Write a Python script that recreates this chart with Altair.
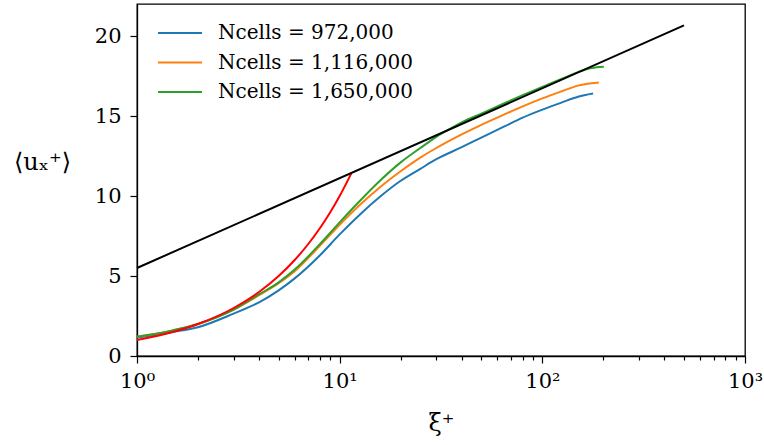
import altair as alt
import pandas as pd

# ---- data ----
series_names = ["Ncells = 972,000", "Ncells = 1,116,000", "Ncells = 1,650,000"]
series_colors = ["#1f77b4", "#ff7f0e", "#2ca02c"]

xi_972 = [1, 1.5, 2, 3, 4, 5, 6, 8, 10, 12.6, 15.8, 20, 25, 30, 40, 50, 65, 80, 100, 125, 150, 178]
u_972 = [1.15, 1.5, 1.8, 2.65, 3.35, 4.1, 4.85, 6.3, 7.6, 8.85, 9.95, 10.95, 11.7, 12.3, 13.05, 13.65,
         14.35, 14.9, 15.4, 15.85, 16.2, 16.4]

xi_1116 = [1, 1.5, 2, 3, 4, 5, 6, 8, 10, 12.6, 15.8, 20, 25, 30, 40, 50, 65, 80, 100, 125, 150, 175, 190]
u_1116 = [1.2, 1.6, 2.0, 2.9, 3.8, 4.55, 5.3, 6.9, 8.2, 9.45, 10.55, 11.55, 12.4, 13.0, 13.85, 14.45,
          15.1, 15.6, 16.1, 16.55, 16.9, 17.05, 17.1]

xi_1650 = [1, 1.5, 2, 3, 4, 5, 6, 8, 10, 12.6, 15.8, 20, 25, 30, 35, 40, 50, 65, 80, 100, 125, 150, 175, 201]
u_1650 = [1.2, 1.6, 2.0, 2.9, 3.85, 4.6, 5.4, 7.0, 8.35, 9.7, 10.95, 12.1, 13.0, 13.7, 14.2, 14.6, 15.15,
          15.8, 16.3, 16.82, 17.33, 17.74, 18.0, 18.08]

# viscous sublayer (red) and log law (black)
xi_visc = [1, 1.5, 2, 3, 4, 5, 6, 7, 8, 9, 10, 11.4]
u_visc = [1, 1.5, 2, 3, 4, 5, 6, 7, 8, 9, 10, 11.4]
xi_log = [1, 500]
u_log = [5.5, 20.66]

x_tick_values = [1, 2, 3, 4, 5, 6, 7, 8, 9, 10, 20, 30, 40, 50, 60, 70, 80, 90,
                 100, 200, 300, 400, 500, 600, 700, 800, 900, 1000]
x_major = [1, 10, 100, 1000]
x_major_labels = ["10⁰", "10¹", "10²", "10³"]
y_tick_values = [0, 5, 10, 15, 20]

# ---- build tables ----
rows = []
for name, xs, us in zip(series_names, [xi_972, xi_1116, xi_1650], [u_972, u_1116, u_1650]):
    for i, (x, u) in enumerate(zip(xs, us)):
        rows.append({"series": name, "xi": x, "u": u, "order": i})
df = pd.DataFrame(rows)
df_visc = pd.DataFrame({"xi": xi_visc, "u": u_visc})
df_log = pd.DataFrame({"xi": xi_log, "u": u_log})

label_expr = " : ".join(
    f"datum.value == {v} ? '{l}'" for v, l in zip(x_major, x_major_labels)
) + " : ''"
major_test = "indexof([" + ",".join(str(v) for v in x_major) + "], datum.value) >= 0"

FONT = "DejaVu Serif"

x_scale = alt.Scale(type="log", domain=[1, 1000])
y_scale = alt.Scale(domain=[0, 22], nice=False)

x_enc = alt.X(
    "xi:Q", scale=x_scale,
    axis=alt.Axis(
        values=x_tick_values, labelExpr=label_expr,
        tickSize={"condition": {"test": major_test, "value": 7}, "value": 4},
        title="ξ⁺", titleFontSize=24, titleFont=FONT, titleFontWeight="normal",
        titlePadding=20, labelFontSize=21, labelFont=FONT, labelPadding=7,
        labelFlush=False, grid=False, domainColor="black", tickColor="black",
        labelColor="black", titleColor="black", tickWidth=1.2, domainWidth=1.3,
    ),
)
y_enc = alt.Y(
    "u:Q", scale=y_scale,
    axis=alt.Axis(
        values=y_tick_values, tickSize=7, labelFontSize=21, labelFont=FONT,
        labelPadding=9, grid=False, domainColor="black", tickColor="black",
        labelColor="black", title="⟨uₓ⁺⟩", titleAngle=0, titleX=-95, titleY=158,
        titleAlign="center", titleBaseline="middle", titleFontSize=24,
        titleFont=FONT, titleFontWeight="normal", titleColor="black",
        tickWidth=1.2, domainWidth=1.3,
    ),
)

curves = alt.Chart(df).mark_line(strokeWidth=2, interpolate="monotone").encode(
    x=x_enc, y=y_enc,
    color=alt.Color(
        "series:N",
        scale=alt.Scale(domain=series_names, range=series_colors),
        legend=alt.Legend(
            title=None, orient="none", legendX=32, legendY=18,
            symbolType="M-2.2,0H2.2", symbolSize=400, symbolStrokeWidth=2,
            labelFont=FONT, labelFontSize=20, labelColor="black", labelLimit=400,
            rowPadding=8.5, labelOffset=27,
        ),
    ),
    order="order:Q",
    detail="series:N",
)

visc = alt.Chart(df_visc).mark_line(strokeWidth=2, color="#ff0000", interpolate="monotone").encode(
    x=alt.X("xi:Q", scale=x_scale), y=alt.Y("u:Q", scale=y_scale)
)
loglaw = alt.Chart(df_log).mark_line(strokeWidth=2, color="black").encode(
    x=alt.X("xi:Q", scale=x_scale), y=alt.Y("u:Q", scale=y_scale)
)

chart = alt.layer(curves, visc, loglaw).properties(
    width=608, height=352,
    autosize=alt.AutoSizeParams(type="none"),
    padding={"left": 137, "top": 4, "right": 19, "bottom": 89},
    background="white",
).configure(font=FONT).configure_view(stroke="black", strokeWidth=1.3)

chart.save("out.html", embed_options={"renderer": "svg", "actions": False})
